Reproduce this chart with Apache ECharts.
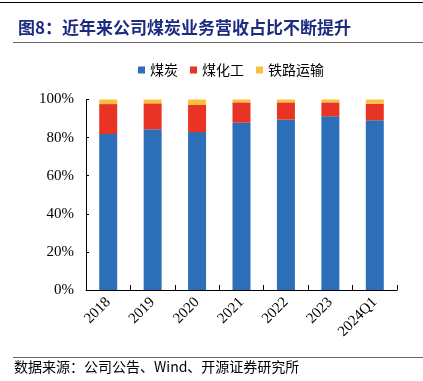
<!DOCTYPE html>
<html><head><meta charset="utf-8">
<script src="https://cdn.jsdelivr.net/npm/echarts@6/dist/echarts.min.js"></script>
<style>html,body{margin:0;padding:0;background:#fff}#c{width:423px;height:381px}</style>
</head><body><div id="c"></div>
<script>
var categories = ['2018','2019','2020','2021','2022','2023','2024Q1'];
var coal = [81.9, 84.4, 82.9, 87.8, 89.4, 91.2, 89.1];
var chem = [15.7, 13.6, 14.2, 10.7, 9.1, 7.3, 8.7];
var rail = [2.4, 2.0, 2.9, 1.5, 1.5, 1.5, 2.2];
var yTicks = [0, 20, 40, 60, 80, 100];

var chart = echarts.init(document.getElementById('c'));
var serif = '"Liberation Serif","DejaVu Serif",serif';
var cjk = '"Noto Sans CJK SC","Liberation Serif",serif';
chart.setOption({
  animation:false,
  title:{text:'图8：近年来公司煤炭业务营收占比不断提升', left:13, top:14,
    textStyle:{color:'#1c2a80', fontSize:17, fontWeight:'bold', fontFamily:cjk}},
  legend:{top:58, left:133, itemWidth:7, itemHeight:7, itemGap:12, icon:'rect',
    textStyle:{fontSize:14, fontFamily:cjk, color:'#000'},
    data:['煤炭','煤化工','铁路运输']},
  grid:{left:86, right:26, top:99.5, bottom:91, containLabel:false},
  xAxis:{type:'category', data:categories,
    axisLine:{lineStyle:{color:'#000', width:1}},
    axisTick:{show:true, inside:true, alignWithLabel:false, length:5, lineStyle:{color:'#000'}},
    axisLabel:{rotate:45, fontSize:15, fontFamily:serif, color:'#000', margin:10}},
  yAxis:{type:'value', min:0, max:100, interval:20,
    axisLine:{show:true, lineStyle:{color:'#000'}},
    axisTick:{show:true, inside:true, length:3, lineStyle:{color:'#000'}},
    splitLine:{show:false},
    axisLabel:{fontSize:15, fontFamily:serif, color:'#000', margin:12,
      formatter:function(v){return yTicks.indexOf(v)>=0 ? v+'%' : '';}}},
  series:[
    {name:'煤炭', type:'bar', stack:'a', data:coal, barWidth:18, itemStyle:{color:'#2c6fb8'}},
    {name:'煤化工', type:'bar', stack:'a', data:chem, barWidth:18, itemStyle:{color:'#e93324'}},
    {name:'铁路运输', type:'bar', stack:'a', data:rail, barWidth:18, itemStyle:{color:'#f8c03d'}}
  ],
  graphic:[
    {type:'line', shape:{x1:0,y1:2.5,x2:423,y2:2.5}, style:{stroke:'#000', lineWidth:1}},
    {type:'line', shape:{x1:13,y1:42.5,x2:423,y2:42.5}, style:{stroke:'#666', lineWidth:1}},
    {type:'line', shape:{x1:13,y1:357.5,x2:423,y2:357.5}, style:{stroke:'#666', lineWidth:1}},
    {type:'text', left:14, top:360, style:{text:'数据来源：公司公告、Wind、开源证券研究所', fontSize:14, fontFamily:cjk, fill:'#000'}}
  ]
});
</script></body></html>
